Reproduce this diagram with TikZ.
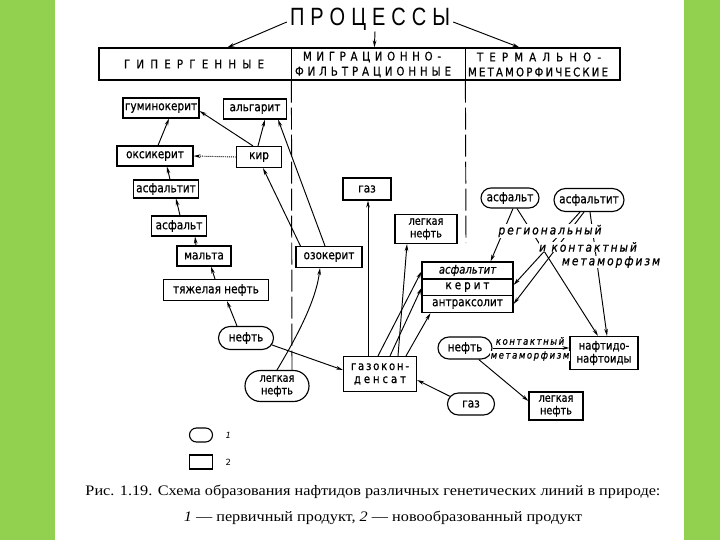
\documentclass[tikz,border=0pt]{standalone}
\usepackage{fontspec}
\setmainfont{DejaVu Sans}
\newfontfamily\capfont[FakeStretch=1.12]{Liberation Serif}
\newfontfamily\boxfont[FakeStretch=0.84, FakeBold=0.6]{DejaVu Sans}
\newfontfamily\itfont[LetterSpace=16, FakeStretch=0.85, FakeBold=0.8]{DejaVu Sans}
\newfontfamily\hdrfont[FakeStretch=0.85, FakeBold=0.5]{DejaVu Sans}
\newfontfamily\ttlfont[FakeStretch=0.8]{Liberation Sans}
\usetikzlibrary{arrows.meta,shapes.misc,calc}
\definecolor{gr}{RGB}{146,208,80}
\makeatletter
\newcommand\spreadto[2]{\makebox[#1][s]{\spread@i#2\@nil}}
\def\spread@i#1#2\@nil{#1\@tfor\@ch:=#2\do{\hfil\@ch}}
\makeatother
\begin{document}
\begin{tikzpicture}[x=1pt,y=-1pt,
  box/.style={draw, line width=1.15pt, inner sep=1pt, align=center,
    font=\boxfont\fontsize{12.5}{13.5}\selectfont},
  oval/.style={box, rounded rectangle},
  arr/.style={line width=0.95pt, -{Stealth[length=7pt,width=3.6pt]}},
  lbl/.style={font=\itfont\itshape\fontsize{12.5}{13}\selectfont, fill=white, inner sep=0.6pt},
  slbl/.style={font=\itfont\itshape\fontsize{10}{10}\selectfont, fill=white, inner sep=0.4pt},
  hdrtxt/.style={inner sep=0pt, font=\hdrfont\fontsize{12}{13}\selectfont},
  dline/.style={line width=0.95pt, dash pattern=on 22pt off 5pt}]
\useasboundingbox (0,0) rectangle (720,540);
\fill[white] (0,0) rectangle (720,540);
\fill[gr] (0,0) rectangle (55,540);
\fill[gr] (684,0) rectangle (720,540);

% title and header
\node[inner sep=0pt, font=\ttlfont\fontsize{25}{26}\selectfont] (ttl) at (370,19) {\spreadto{160pt}{ПРОЦЕССЫ}};
\node[draw, line width=1.2pt, minimum width=521, minimum height=32, inner sep=0pt] (hdr) at (359.5,64) {};
\draw[line width=1.1pt] ($(hdr.north west)+(193,0)$) -- ($(hdr.south west)+(193,0)$);
\draw[line width=1.1pt] ($(hdr.north west)+(367,0)$) -- ($(hdr.south west)+(367,0)$);
\node[hdrtxt] (h1) at (194,64) {\spreadto{140pt}{ГИПЕРГЕННЫЕ}};
\node[hdrtxt] (h2a) at (372,57) {\spreadto{138pt}{МИГРАЦИОННО-}};
\node[hdrtxt] (h2b) at (373,72) {\spreadto{156pt}{ФИЛЬТРАЦИОННЫЕ}};
\node[hdrtxt] (h3a) at (539,57) {\spreadto{124pt}{ТЕРМАЛЬНО-}};
\node[hdrtxt] (h3b) at (538,72) {\spreadto{140pt}{МЕТАМОРФИЧЕСКИЕ}};
\draw[arr] ($(ttl.west)+(-3,3)$) -- ($(hdr.north west)+(129,0)$);
\draw[arr] ($(ttl.south)+(5,1)$) -- ($(hdr.north west)+(276,0)$);
\draw[arr] ($(ttl.east)+(3,3)$) -- ($(hdr.north west)+(421,0)$);
\coordinate (d1end) at (292,370);
\coordinate (d2end) at (466,243);
\draw[dline] ($(hdr.south west)+(193,0)$) -- (d1end);
\draw[dline] ($(hdr.south west)+(367,0)$) -- (d2end);

% hypergene column
\node[box, minimum width=76, minimum height=20] (gum) at (161,108) {гуминокерит};
\node[box, minimum width=63, minimum height=20] (alg) at (255,109) {альгарит};
\node[box, minimum width=76, minimum height=20] (oks) at (155,156) {оксикерит};
\node[box, minimum width=45, minimum height=21] (kir) at (259,157) {кир};
\node[box, minimum width=65, minimum height=18] (asft) at (166,189) {асфальтит};
\node[box, minimum width=55, minimum height=20] (asf) at (179,226) {асфальт};
\node[box, minimum width=54, minimum height=20] (mal) at (204,256) {мальта};
\node[box, minimum width=105, minimum height=21] (tyazh) at (216,290) {тяжелая нефть};
\node[oval, minimum width=57, minimum height=23] (neft1) at (246,338) {нефть};
\node[oval, minimum width=66, minimum height=31, font=\boxfont\fontsize{11.5}{12.5}\selectfont] (legk1) at (277,386) {легкая\\нефть};

% migration column
\node[box, minimum width=66, minimum height=21] (ozo) at (329,257) {озокерит};
\node[box, minimum width=48, minimum height=22] (gas1) at (367,189) {газ};
\node[box, minimum width=62, minimum height=29, font=\boxfont\fontsize{11.5}{12.5}\selectfont] (legk2) at (426,229) {легкая\\нефть};
\node[box, minimum width=91, minimum height=17, font=\boxfont\itshape\fontsize{12}{13}\selectfont] (sa) at (467.5,270.5) {асфальтит};
\node[box, minimum width=91, minimum height=17] (sk) at (467.5,287) {\spreadto{44pt}{керит}};
\node[box, minimum width=91, minimum height=17] (sn) at (467.5,304) {антраксолит};
\node[box, minimum width=73, minimum height=35, font=\boxfont\fontsize{12}{13}\selectfont] (gk) at (380,374) {\spreadto{58pt}{газокон-}\\\spreadto{52pt}{денсат}};

% thermal column
\node[oval, minimum width=60, minimum height=20] (asf2) at (510,198) {асфальт};
\node[oval, minimum width=72, minimum height=23] (asft2) at (589,200) {асфальтит};
\node[oval, minimum width=56, minimum height=22] (neft2) at (465,348) {нефть};
\node[box, minimum width=68, minimum height=33, font=\boxfont\fontsize{12}{13}\selectfont] (naft) at (604,353) {нафтидо-\\нафтоиды};
\node[oval, minimum width=49, minimum height=22] (gas2) at (471,404) {газ};
\node[box, minimum width=54, minimum height=28, font=\boxfont\fontsize{11.5}{12.5}\selectfont] (legk3) at (556,406) {легкая\\нефть};

% connectors, hypergene
\draw[arr] ($(oks.north)+(3,0)$) -- ($(gum.south)+(8,0)$);
\draw[arr] ($(kir.north)+(-6,0)$) -- ($(gum.east)+(0,3)$);
\draw[arr] ($(kir.north)+(-1,0)$) -- ($(alg.south)+(10,0)$);
\draw[arr, densely dotted] (kir.west) -- (oks.east);
\draw[arr] ($(asft.north)+(4,0)$) -- ($(oks.south)+(12,0)$);
\draw[arr] ($(asf.north)+(1,0)$) -- ($(asft.south)+(10,0)$);
\draw[arr] ($(mal.north)+(-8,0)$) -- ($(asf.south)+(16,0)$);
\draw[arr] ($(tyazh.north)+(-1,0)$) -- ($(mal.south)+(7,0)$);
\draw[arr] ($(neft1.north)+(-9,0)$) -- ($(tyazh.south)+(11,0)$);
\draw[arr] (neft1.-15) -- ($(gk.west)+(0,-4)$);
\draw[arr] ($(ozo.north west)+(5,0)$) -- ($(kir.south)+(4,0)$);
\draw[arr] ($(ozo.north)+(-4,0)$) -- ($(alg.south east)+(-9,0)$);
\draw[arr] (legk1.north) .. controls (298,335) and (316,300) .. ($(ozo.south)+(-9,0)$);

% connectors, gas condensate
\draw[arr] ($(gk.north)+(-12,0)$) -- ($(gas1.south)+(1,0)$);
\draw[arr] ($(gk.north)+(-2,0)$) -- ($(sa.west)+(0,1)$);
\draw[arr] ($(gk.north)+(10,0)$) -- ($(sk.west)+(0,1)$);
\draw[arr] ($(gk.north)+(18,0)$) -- ($(legk2.south)+(-19,0)$);
\draw[arr] ($(gk.north)+(26,0)$) -- ($(sn.south west)+(9,0)$);
\draw[arr] (gas2.160) -- ($(gk.east)+(0,6)$);

% connectors, thermal
\draw[arr] ($(asf2.south)+(3,0)$) -- ($(sa.north east)+(-23,0)$);
\draw[arr] ($(asf2.south)+(7,0)$) -- ($(naft.north)+(-6,0)$);
\draw[arr] ($(asft2.south)+(-9,0)$) -- ($(sk.east)+(0,-2)$);
\draw[arr] ($(asft2.south)+(-5,0)$) -- (sn.east);
\draw[arr] ($(asft2.south)+(1,0)$) -- ($(naft.north)+(3,0)$);
\draw[arr] (neft2.east) -- ($(naft.west)+(0,-5)$);
\draw[arr] (neft2.-40) -- ($(legk3.west)+(0,-5)$);

% italic labels
\node[lbl] (t1) at (550,231) {региональный};
\node[lbl] (t2) at (588,247) {и контактный};
\node[lbl] (t3) at (611,262) {метаморфизм};
\node[slbl] (t4) at (530,341) {контактный};
\node[slbl] (t5) at (530,356) {метаморфизм};

% legend
\node[draw, line width=1.1pt, rounded rectangle, minimum width=23, minimum height=14, inner sep=0pt] (lg1) at (201,435) {};
\node[font=\itshape\fontsize{8.5}{10}\selectfont, anchor=west] (lg1t) at (222,435) {1};
\node[draw, line width=1.1pt, minimum width=23, minimum height=14, inner sep=0pt] (lg2) at (201,462) {};
\node[font=\fontsize{8.5}{10}\selectfont, anchor=west] (lg2t) at (222,462) {2};

% caption
\node[font=\capfont\fontsize{14.5}{16}\selectfont, inner sep=0pt] (cap1) at (373,492) {Рис. 1.19. Схема образования нафтидов различных генетических линий в природе:};
\node[font=\capfont\fontsize{14.5}{16}\selectfont, inner sep=0pt] (cap2) at (383,518) {{\itshape 1} — первичный продукт, {\itshape 2} — новообразованный продукт};
\end{tikzpicture}
\end{document}
